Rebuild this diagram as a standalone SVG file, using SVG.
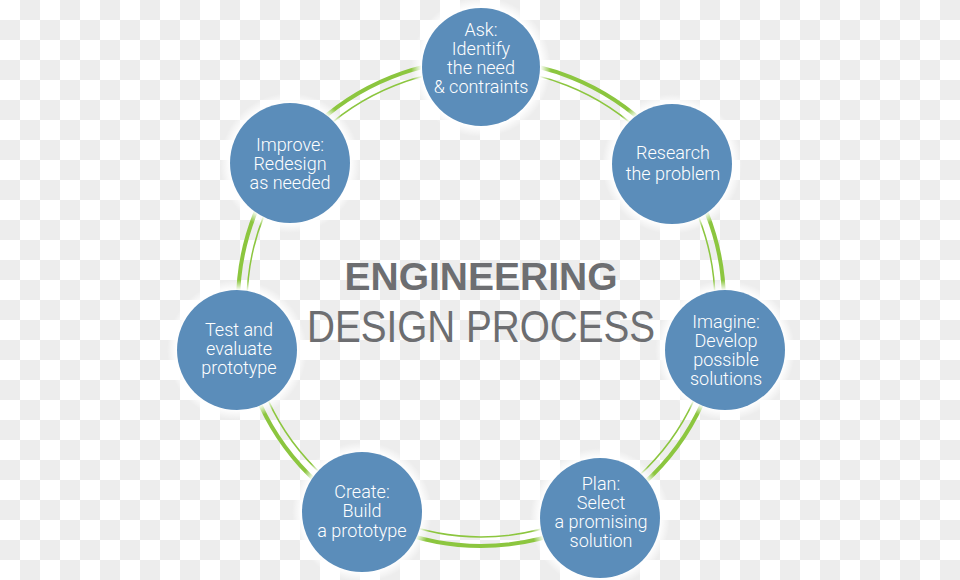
<svg xmlns="http://www.w3.org/2000/svg" width="960" height="580" viewBox="0 0 960 580">
<defs>
<pattern id="checker" x="0" y="0" width="40" height="40" patternUnits="userSpaceOnUse">
<rect x="0" y="0" width="40" height="40" fill="#ffffff"/>
<rect x="20" y="0" width="20" height="20" fill="#ededed"/>
<rect x="0" y="20" width="20" height="20" fill="#ededed"/>
</pattern>
<radialGradient id="halo">
<stop offset="0.85" stop-color="#ffffff" stop-opacity="1"/>
<stop offset="1" stop-color="#ffffff" stop-opacity="0"/>
</radialGradient>
</defs>
<style>
.halo{fill:url(#halo);}
.disc{fill:#5b8dba;}
.lbl{font-family:Roboto,"Liberation Sans",sans-serif;font-weight:300;font-size:18px;fill:#ffffff;text-anchor:middle;}
.thick{fill:none;stroke:#8cc63f;stroke-width:4;}
.thin{fill:none;stroke:#8cc63f;stroke-width:1.5;}
.title{font-family:"Liberation Sans",Arial,sans-serif;fill:#6d6e71;}
</style>
<rect x="0" y="0" width="960" height="580" fill="url(#checker)"/>
<g id="connectors">
<circle class="thick" cx="481" cy="303" r="243"/>
<circle class="thin" cx="481" cy="303" r="234"/>
</g>
<g id="title">
<text class="title" x="481" y="290" font-size="39" font-weight="700" text-anchor="middle" textLength="273" lengthAdjust="spacingAndGlyphs">ENGINEERING</text>
<text class="title" x="481" y="342" font-size="44" font-family="Roboto,'Liberation Sans',sans-serif" font-weight="300" text-anchor="middle" textLength="348" lengthAdjust="spacingAndGlyphs">DESIGN PROCESS</text>
</g>
<g id="ask">
<circle class="halo" cx="481" cy="67" r="70"/>
<circle class="disc" cx="481" cy="67" r="59"/>
<text class="lbl" x="481" y="36">Ask:</text>
<text class="lbl" x="481" y="55">Identify</text>
<text class="lbl" x="481" y="74">the need</text>
<text class="lbl" x="481" y="93">&amp; contraints</text>
</g>
<g id="research">
<circle class="halo" cx="672" cy="164" r="70"/>
<circle class="disc" cx="672" cy="164" r="60"/>
<text class="lbl" x="673" y="159">Research</text>
<text class="lbl" x="673" y="180">the problem</text>
</g>
<g id="imagine">
<circle class="halo" cx="725" cy="350" r="70"/>
<circle class="disc" cx="725" cy="350" r="60"/>
<text class="lbl" x="726" y="328">Imagine:</text>
<text class="lbl" x="726" y="347">Develop</text>
<text class="lbl" x="726" y="366">possible</text>
<text class="lbl" x="726" y="385">solutions</text>
</g>
<g id="plan">
<circle class="halo" cx="600" cy="518" r="70"/>
<circle class="disc" cx="600" cy="518" r="60"/>
<text class="lbl" x="601" y="490">Plan:</text>
<text class="lbl" x="601" y="509">Select</text>
<text class="lbl" x="601" y="528">a promising</text>
<text class="lbl" x="601" y="547">solution</text>
</g>
<g id="create">
<circle class="halo" cx="362" cy="512" r="70"/>
<circle class="disc" cx="362" cy="512" r="60"/>
<text class="lbl" x="362" y="498">Create:</text>
<text class="lbl" x="362" y="517">Build</text>
<text class="lbl" x="362" y="537">a prototype</text>
</g>
<g id="test">
<circle class="halo" cx="237" cy="350" r="70"/>
<circle class="disc" cx="237" cy="350" r="60"/>
<text class="lbl" x="239" y="336">Test and</text>
<text class="lbl" x="239" y="355">evaluate</text>
<text class="lbl" x="239" y="374">prototype</text>
</g>
<g id="improve">
<circle class="halo" cx="290" cy="163" r="70"/>
<circle class="disc" cx="290" cy="163" r="60"/>
<text class="lbl" x="290" y="151">Improve:</text>
<text class="lbl" x="290" y="170">Redesign</text>
<text class="lbl" x="290" y="189">as needed</text>
</g>
</svg>
